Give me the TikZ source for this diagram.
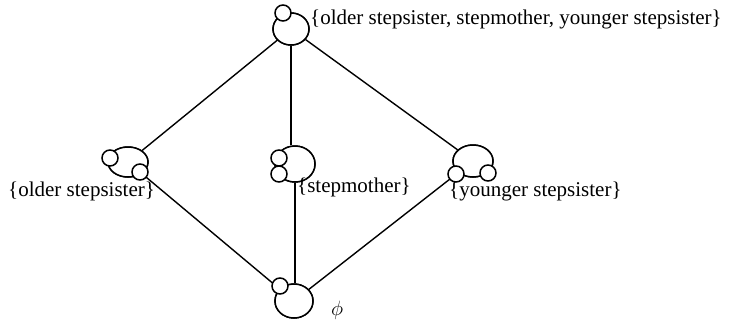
\documentclass[tikz,border=0pt]{standalone}
\usepackage{fontspec}
\setmainfont{Liberation Serif}
\usetikzlibrary{shapes.geometric}
\begin{document}
\begin{tikzpicture}[x=1pt,y=-1pt,
  blob/.style={ellipse,draw,line width=1.5pt,fill=white,inner sep=0pt},
  dot/.style={circle,draw,line width=1.5pt,fill=white,inner sep=0pt,minimum size=16pt},
  edge/.style={line width=1.4pt},
  lbl/.style={font=\fontsize{21}{24}\selectfont,inner sep=0pt}]
\useasboundingbox (0,0) rectangle (729,322);
% big circles of the lattice elements
\node[blob,minimum width=36pt,minimum height=32pt] (top) at (291,29) {};
\node[blob,minimum width=40pt,minimum height=30pt] (left) at (128,162) {};
\node[blob,minimum width=40pt,minimum height=36pt] (mid) at (295,164) {};
\node[blob,minimum width=40pt,minimum height=32pt] (right) at (473,161) {};
\node[blob,minimum width=38pt,minimum height=34pt] (bot) at (294,301) {};
% lattice edges
\draw[edge] (top) -- (left);
\draw[edge] (top) -- (right);
\draw[edge] (top.south) -- (top.south |- mid.north);
\draw[edge] (left) -- (bot);
\draw[edge] (right) -- (bot);
\draw[edge] (mid.south) -- (mid.south |- bot.north);
% redraw big circles over the edges
\node[blob,minimum width=36pt,minimum height=32pt] at (top) {};
\node[blob,minimum width=40pt,minimum height=30pt] at (left) {};
\node[blob,minimum width=40pt,minimum height=36pt] at (mid) {};
\node[blob,minimum width=40pt,minimum height=32pt] at (right) {};
\node[blob,minimum width=38pt,minimum height=34pt] at (bot) {};
% small circles
\node[dot] (t1) at (283,13) {};
\node[dot] (l1) at (110,158) {};
\node[dot] (l2) at (140,172) {};
\node[dot] (m1) at (279,158) {};
\node[dot] (m2) at (279,174) {};
\node[dot] (r1) at (456,174) {};
\node[dot] (r2) at (488,173) {};
\node[dot] (b1) at (280,286) {};
% labels
\node[lbl,anchor=west] (ltop) at (310,19) {\{older stepsister, stepmother, younger stepsister\}};
\node[lbl,anchor=west] (lleft) at (8,191) {\{older stepsister\}};
\node[lbl,anchor=west] (lmid) at (297,187) {\{stepmother\}};
\node[lbl,anchor=west] (lright) at (449,191) {\{younger stepsister\}};
\node[lbl,anchor=west] (lbot) at (331,310) {$\phi$};
\end{tikzpicture}
\end{document}
